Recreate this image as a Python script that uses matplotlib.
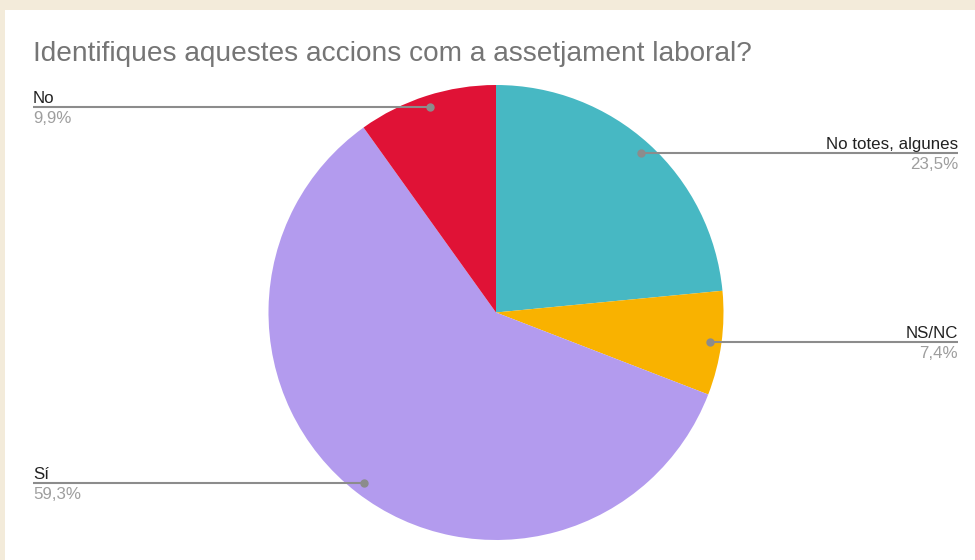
import numpy as np
import matplotlib.pyplot as plt
from matplotlib.patches import Rectangle

# Survey answers, clockwise from 12 o'clock.
labels = ["No totes, algunes", "NS/NC", "Sí", "No"]
values = [23.5, 7.4, 59.3, 9.9]
value_labels = ["23,5%", "7,4%", "59,3%", "9,9%"]
colors = ["#47b8c3", "#f9b200", "#b39bee", "#e01236"]
title = "Identifiques aquestes accions com a assetjament laboral?"

W, H = 975, 560
plt.rcParams["font.family"] = ["Liberation Sans", "DejaVu Sans"]

fig = plt.figure(figsize=(W / 100, H / 100), dpi=100, facecolor="#f3ebda")
ax = fig.add_axes([0, 0, 1, 1])

# White card inside the beige frame
ax.add_patch(Rectangle((5, 0), W - 5, H - 10, facecolor="white", edgecolor="none", zorder=0))

cx, cy, r = 496, H - 312.5, 227.5
wedges, _ = ax.pie(values, colors=colors, startangle=90, counterclock=False,
                   center=(cx, cy), radius=r, wedgeprops=dict(linewidth=0),
                   frame=True)
ax.set_xlim(0, W)
ax.set_ylim(0, H)
ax.set_aspect("equal")
ax.axis("off")

ax.text(33, H - 61, title, fontsize=20.2, color="#757575", va="baseline", ha="left")

line_col = "#8c8c8c"
for w, name, val in zip(wedges, labels, value_labels):
    mid = np.deg2rad((w.theta1 + w.theta2) / 2)
    dx, dy = cx + 0.95 * r * np.cos(mid), cy + 0.95 * r * np.sin(mid)
    if np.cos(mid) >= 0:
        tx, ha = 958, "right"
    else:
        tx, ha = 33, "left"
    ax.plot([dx, tx], [dy, dy], color=line_col, lw=1.5, solid_capstyle="butt", zorder=3)
    ax.plot(dx, dy, "o", color=line_col, ms=5, zorder=4)
    ax.text(tx, dy + 4, name, fontsize=12.2, color="#222222", ha=ha, va="baseline")
    ax.text(tx, dy - 4, val, fontsize=12.2, color="#9e9e9e", ha=ha, va="top")

fig.savefig("out.png", dpi=100, facecolor=fig.get_facecolor())
